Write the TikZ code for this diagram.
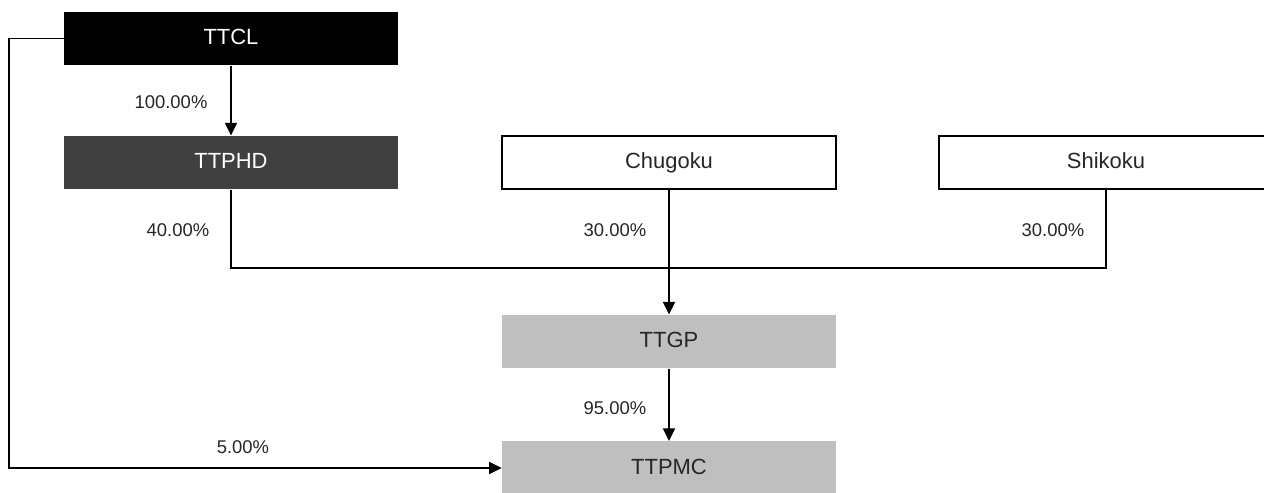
\documentclass[tikz,border=0pt]{standalone}
\usepackage{fontspec}
\setmainfont{Liberation Sans}
\usetikzlibrary{arrows.meta}
\definecolor{boxdark}{HTML}{404040}
\definecolor{boxgrey}{HTML}{BFBFBF}
\definecolor{txtgrey}{HTML}{262626}
\tikzset{
  entity/.style={minimum width=6.68cm, minimum height=1.07cm, inner sep=0pt, text height=1.6ex, text depth=0.3ex, font=\fontsize{12.5}{14}\selectfont},
  share/.style={font=\fontsize{10.5}{12}\selectfont, text=txtgrey, inner sep=0pt},
  link/.style={line width=1.1pt, -{Triangle[length=0.25cm,width=0.24cm]}},
}
\begin{document}
\begin{tikzpicture}[x=0.02cm,y=-0.02cm]
            \useasboundingbox (0,0) rectangle (1264,493);
            \clip (0,0) rectangle (1264,493);
            
            \node[entity, fill=black, text=white] (ttcl) at (231,38.5) {TTCL};
            \node[entity, fill=boxdark, text=white] (ttphd) at (231,162.5) {TTPHD};
            \node[entity, draw=black, line width=1.1pt, text=txtgrey] (chugoku) at (669,162.5) {Chugoku};
            \node[entity, draw=black, line width=1.1pt, text=txtgrey] (shikoku) at (1106,162.5) {Shikoku};
            \node[entity, fill=boxgrey, text=txtgrey] (ttgp) at (669,341.5) {TTGP};
            \node[entity, fill=boxgrey, text=txtgrey] (ttpmc) at (669,468) {TTPMC};
            
            \coordinate (bus) at (669,268);
            
            \draw[link] (ttcl.south) -- (ttphd.north);
            \draw[line width=1.1pt] (ttphd.south) |- (bus) -| (shikoku.south);
            \draw[link] (chugoku.south) -- (ttgp.north);
            \draw[link] (ttgp.south) -- (ttpmc.north);
            \draw[link] (ttcl.west) -- ++(-55,0) |- (ttpmc.west);
            
            \node[share] (p100) at (171,102) {100.00\%};
            \node[share] (p40) at (178,230) {40.00\%};
            \node[share] (p30a) at (615,230) {30.00\%};
            \node[share] (p30b) at (1053,230) {30.00\%};
            \node[share] (p95) at (615,408) {95.00\%};
            \node[share] (p5) at (243,447) {5.00\%};
        \end{tikzpicture}
\end{document}
